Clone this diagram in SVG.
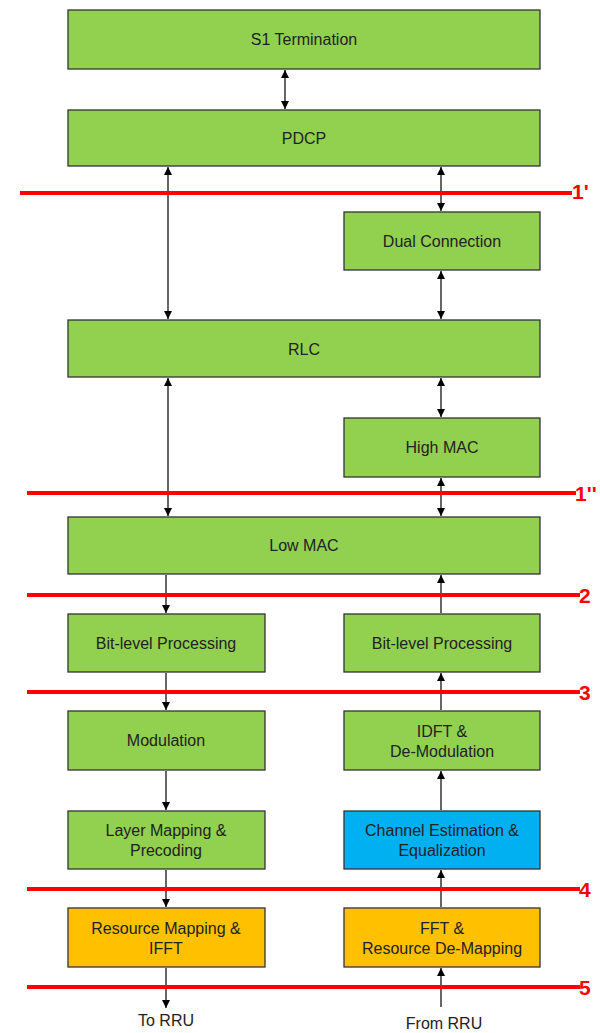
<svg xmlns="http://www.w3.org/2000/svg" width="600" height="1033" viewBox="0 0 600 1033">
<style>
.b{stroke:#333;stroke-width:1.3}
.g{fill:#92D050}
.o{fill:#FFC000}
.c{fill:#00B0F0}
.t{font-family:"Liberation Sans",Arial,sans-serif;font-size:16px;fill:#222;text-anchor:middle}
.a{stroke:#000;stroke-width:1.2;fill:none}
.r{stroke:#FF0000;stroke-width:4}
.l{font-family:"Liberation Sans",Arial,sans-serif;font-size:21px;font-weight:bold;fill:#FF0000}
</style>
<defs>
<marker id="ah" viewBox="0 0 10 10" refX="10" refY="5" markerWidth="11" markerHeight="8" markerUnits="userSpaceOnUse" orient="auto-start-reverse">
<path d="M0,0 L10,5 L0,10 z" fill="#000"/>
</marker>
</defs>
<rect width="600" height="1033" fill="#fff"/>
<g id="connectors">
<line class="a" x1="285" y1="70" x2="285" y2="109" marker-start="url(#ah)" marker-end="url(#ah)"/>
<line class="a" x1="168" y1="167" x2="168" y2="319" marker-start="url(#ah)" marker-end="url(#ah)"/>
<line class="a" x1="441" y1="167" x2="441" y2="211" marker-start="url(#ah)" marker-end="url(#ah)"/>
<line class="a" x1="441" y1="271" x2="441" y2="319" marker-start="url(#ah)" marker-end="url(#ah)"/>
<line class="a" x1="441" y1="378" x2="441" y2="417" marker-start="url(#ah)" marker-end="url(#ah)"/>
<line class="a" x1="168" y1="378" x2="168" y2="516" marker-start="url(#ah)" marker-end="url(#ah)"/>
<line class="a" x1="441" y1="478" x2="441" y2="516" marker-start="url(#ah)" marker-end="url(#ah)"/>
<line class="a" x1="166" y1="575" x2="166" y2="613" marker-end="url(#ah)"/>
<line class="a" x1="441" y1="613" x2="441" y2="575" marker-end="url(#ah)"/>
<line class="a" x1="166" y1="673" x2="166" y2="710" marker-end="url(#ah)"/>
<line class="a" x1="441" y1="710" x2="441" y2="673" marker-end="url(#ah)"/>
<line class="a" x1="166" y1="771" x2="166" y2="810" marker-end="url(#ah)"/>
<line class="a" x1="441" y1="810" x2="441" y2="771" marker-end="url(#ah)"/>
<line class="a" x1="166" y1="870" x2="166" y2="907" marker-end="url(#ah)"/>
<line class="a" x1="441" y1="907" x2="441" y2="870" marker-end="url(#ah)"/>
<line class="a" x1="166" y1="968" x2="166" y2="1008" marker-end="url(#ah)"/>
<line class="a" x1="441" y1="1007" x2="441" y2="968" marker-end="url(#ah)"/>
</g>
<g id="n-s1"><rect class="b g" x="68" y="10" width="472" height="59"/><text class="t" x="304" y="45">S1 Termination</text></g>
<g id="n-pdcp"><rect class="b g" x="68" y="110" width="472" height="56"/><text class="t" x="304" y="144">PDCP</text></g>
<g id="n-dual"><rect class="b g" x="344" y="212" width="196" height="58"/><text class="t" x="442" y="247">Dual Connection</text></g>
<g id="n-rlc"><rect class="b g" x="68" y="320" width="472" height="57"/><text class="t" x="304" y="355">RLC</text></g>
<g id="n-highmac"><rect class="b g" x="344" y="418" width="196" height="59"/><text class="t" x="442" y="453">High MAC</text></g>
<g id="n-lowmac"><rect class="b g" x="68" y="517" width="472" height="57"/><text class="t" x="304" y="551">Low MAC</text></g>
<g id="n-bit-dl"><rect class="b g" x="68" y="614" width="197" height="58"/><text class="t" x="166" y="649">Bit-level Processing</text></g>
<g id="n-bit-ul"><rect class="b g" x="344" y="614" width="196" height="58"/><text class="t" x="442" y="649">Bit-level Processing</text></g>
<g id="n-mod"><rect class="b g" x="68" y="711" width="197" height="59"/><text class="t" x="166" y="746">Modulation</text></g>
<g id="n-idft"><rect class="b g" x="344" y="711" width="196" height="59"/><text class="t" x="442" y="737">IDFT &amp;</text><text class="t" x="442" y="757">De-Modulation</text></g>
<g id="n-layer"><rect class="b g" x="68" y="811" width="197" height="58"/><text class="t" x="166" y="836">Layer Mapping &amp;</text><text class="t" x="166" y="856">Precoding</text></g>
<g id="n-chest"><rect class="b c" x="344" y="811" width="196" height="58"/><text class="t" x="442" y="836">Channel Estimation &amp;</text><text class="t" x="442" y="856">Equalization</text></g>
<g id="n-rm"><rect class="b o" x="68" y="908" width="197" height="59"/><text class="t" x="166" y="934">Resource Mapping &amp;</text><text class="t" x="166" y="954">IFFT</text></g>
<g id="n-fft"><rect class="b o" x="344" y="908" width="196" height="59"/><text class="t" x="442" y="934">FFT &amp;</text><text class="t" x="442" y="954">Resource De-Mapping</text></g>
<g id="splits">
<line class="r" x1="20" y1="193" x2="572" y2="193"/><text class="l" x="572" y="199">1'</text>
<line class="r" x1="27" y1="493" x2="576" y2="493"/><text class="l" x="575" y="501">1''</text>
<line class="r" x1="27" y1="595" x2="580" y2="595"/><text class="l" x="579" y="603">2</text>
<line class="r" x1="27" y1="692" x2="580" y2="692"/><text class="l" x="579" y="700">3</text>
<line class="r" x1="27" y1="889" x2="580" y2="889"/><text class="l" x="579" y="897">4</text>
<line class="r" x1="27" y1="987" x2="580" y2="987"/><text class="l" x="579" y="995">5</text>
</g>
<text class="t" x="166" y="1026">To RRU</text>
<text class="t" x="444" y="1029">From RRU</text>
</svg>
